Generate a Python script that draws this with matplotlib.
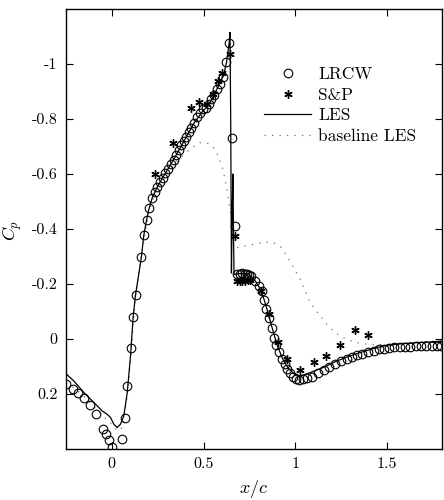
import matplotlib
matplotlib.use("Agg")
import matplotlib.pyplot as plt
from matplotlib.lines import Line2D

plt.rcParams['font.family'] = ['cmr10', 'DejaVu Serif']
plt.rcParams['mathtext.fontset'] = 'cm'
plt.rcParams['axes.unicode_minus'] = False
plt.rcParams['axes.formatter.use_mathtext'] = True

# LRCW experiment (circles)
lrcw_x = [-0.248, -0.214, -0.183, -0.152, -0.121, -0.089, -0.047, -0.030, -0.014, 0.000,
          0.058, 0.071, 0.085, 0.102, 0.116, 0.129, 0.161, 0.174, 0.189, 0.203,
          0.220, 0.234, 0.247, 0.261, 0.277, 0.292, 0.307, 0.323, 0.337, 0.350,
          0.364, 0.379, 0.394, 0.406, 0.421, 0.433, 0.450, 0.464, 0.482, 0.499,
          0.515, 0.528, 0.540, 0.555, 0.573, 0.591, 0.606, 0.624, 0.638, 0.656,
          0.671, 0.683, 0.697, 0.711, 0.724, 0.738, 0.750, 0.761, 0.783, 0.802,
          0.816, 0.829, 0.843, 0.859, 0.872, 0.885, 0.897, 0.914, 0.928, 0.943,
          0.955, 0.970, 0.986, 1.004, 1.022, 1.041, 1.062, 1.091, 1.124, 1.155,
          1.185, 1.218, 1.249, 1.280, 1.309, 1.336, 1.363, 1.396, 1.427, 1.454,
          1.483, 1.512, 1.541, 1.570, 1.599, 1.628, 1.657, 1.686, 1.715, 1.744,
          1.771, 1.795]
lrcw_cp = [0.165, 0.180, 0.197, 0.216, 0.241, 0.273, 0.328, 0.347, 0.367, 0.391,
           0.364, 0.287, 0.172, 0.034, -0.080, -0.159, -0.297, -0.377, -0.432, -0.475,
           -0.513, -0.535, -0.554, -0.571, -0.587, -0.605, -0.620, -0.636, -0.652, -0.668,
           -0.686, -0.705, -0.720, -0.736, -0.752, -0.769, -0.787, -0.806, -0.823, -0.835,
           -0.841, -0.853, -0.872, -0.886, -0.908, -0.929, -0.951, -1.007, -1.078, -0.730,
           -0.411, -0.235, -0.238, -0.239, -0.237, -0.235, -0.232, -0.229, -0.211, -0.193,
           -0.175, -0.142, -0.110, -0.078, -0.039, -0.005, 0.023, 0.049, 0.074, 0.092,
           0.110, 0.125, 0.137, 0.147, 0.150, 0.144, 0.141, 0.137, 0.125, 0.113,
           0.100, 0.090, 0.081, 0.074, 0.065, 0.059, 0.053, 0.047, 0.042, 0.037,
           0.035, 0.033, 0.030, 0.029, 0.029, 0.028, 0.027, 0.027, 0.025, 0.025,
           0.025, 0.025]

# S&P experiment (asterisks)
sp_x = [0.236, 0.332, 0.433, 0.476, 0.519, 0.550, 0.579, 0.600, 0.642, 0.674,
        0.683, 0.697, 0.711, 0.725, 0.740, 0.755, 0.815, 0.858, 0.907, 0.955,
        1.027, 1.102, 1.168, 1.245, 1.323, 1.396]
sp_cp = [-0.600, -0.713, -0.839, -0.863, -0.853, -0.890, -0.938, -0.968, -1.035, -0.375,
         -0.211, -0.211, -0.212, -0.212, -0.213, -0.215, -0.173, -0.090, 0.010, 0.072,
         0.113, 0.085, 0.062, 0.022, -0.032, -0.015]

# LES (solid)
les_x = [-0.25, -0.207, -0.152, -0.098, -0.052, -0.025, -0.007, 0.011, 0.029, 0.047,
         0.065, 0.084, 0.102, 0.116, 0.129, 0.161, 0.174, 0.189, 0.203, 0.220,
         0.250, 0.300, 0.350, 0.400, 0.450, 0.500, 0.520, 0.550, 0.580, 0.610,
         0.625, 0.640, 0.644, 0.648, 0.652, 0.656, 0.660, 0.663, 0.666, 0.700,
         0.740, 0.760, 0.783, 0.802, 0.820, 0.843, 0.870, 0.900, 0.930, 0.960,
         0.990, 1.020, 1.040, 1.090, 1.155, 1.220, 1.280, 1.340, 1.400, 1.450,
         1.500, 1.600, 1.700, 1.800]
les_cp = [0.126, 0.153, 0.195, 0.231, 0.262, 0.274, 0.286, 0.310, 0.322, 0.310,
          0.280, 0.195, 0.060, -0.080, -0.160, -0.297, -0.377, -0.432, -0.475, -0.513,
          -0.556, -0.612, -0.668, -0.728, -0.787, -0.832, -0.846, -0.878, -0.918, -0.962,
          -1.005, -1.078, -1.115, -0.800, -0.240, -0.450, -0.600, -0.400, -0.235, -0.238,
          -0.236, -0.228, -0.210, -0.190, -0.165, -0.115, -0.050, 0.020, 0.070, 0.105,
          0.125, 0.133, 0.132, 0.120, 0.103, 0.082, 0.066, 0.052, 0.040, 0.030,
          0.023, 0.016, 0.012, 0.008]

# baseline LES (dotted)
base_x = [-0.25, -0.20, -0.15, -0.10, -0.05, 0.00, 0.03, 0.06, 0.085, 0.10,
          0.13, 0.16, 0.20, 0.25, 0.30, 0.364, 0.428, 0.482, 0.528, 0.564,
          0.587, 0.606, 0.624, 0.636, 0.649, 0.663, 0.680, 0.727, 0.772, 0.836,
          0.881, 0.917, 0.954, 0.981, 1.011, 1.032, 1.053, 1.077, 1.108, 1.144,
          1.173, 1.207, 1.244, 1.280, 1.325, 1.362, 1.425, 1.500, 1.600, 1.700,
          1.800]
base_cp = [0.160, 0.180, 0.210, 0.245, 0.280, 0.310, 0.335, 0.320, 0.200, 0.080,
           -0.160, -0.300, -0.460, -0.555, -0.600, -0.653, -0.692, -0.714, -0.711, -0.690,
           -0.653, -0.617, -0.556, -0.508, -0.450, -0.350, -0.332, -0.338, -0.344, -0.353,
           -0.350, -0.338, -0.302, -0.272, -0.235, -0.211, -0.175, -0.138, -0.108, -0.078,
           -0.053, -0.029, -0.011, 0.001, 0.011, 0.017, 0.020, 0.020, 0.015, 0.010,
           0.005]

xticks = [0, 0.5, 1, 1.5]
xticklabels = ['0', '0.5', '1', '1.5']
yticks = [-1, -0.8, -0.6, -0.4, -0.2, 0, 0.2]
yticklabels = ['-1', '-0.8', '-0.6', '-0.4', '-0.2', '0', '0.2']

fig = plt.figure(figsize=(4.44, 5.00), dpi=100)
ax = fig.add_axes([66/444, 1-449/500, 376/444, 440/500])

ax.plot(base_x, base_cp, color='#707070', lw=0.9, ls=(0, (1, 5)), label='baseline LES')
ax.plot(les_x, les_cp, color='black', lw=0.9, label='LES')
ax.plot(lrcw_x, lrcw_cp, ls='none', marker='o', ms=6.2, mfc='none', mec='black', mew=0.8, label='LRCW')
ax.plot(sp_x, sp_cp, ls='none', marker=(6, 2, 0), ms=6, mec='black', mew=1.0, label='S&P')

ax.set_xlim(-0.25, 1.8)
ax.set_ylim(0.4, -1.2)
ax.set_xticks(xticks)
ax.set_xticklabels(xticklabels)
ax.set_yticks(yticks)
ax.set_yticklabels(yticklabels)
ax.tick_params(direction='in', top=True, right=True, length=5, width=0.8, labelsize=11.5, pad=6)
for s in ax.spines.values():
    s.set_linewidth(1.0)

ax.set_xlabel(r'$x/c$', fontsize=13)
ax.set_ylabel(r'$C_p$', fontsize=13)
ax.xaxis.set_label_coords((254 - 66) / 376, (449 - 478) / 440)
ax.yaxis.set_label_coords((24 - 66) / 376, (449 - 230) / 440)

handles = [
    Line2D([], [], ls='none', marker='o', ms=6.2, mfc='none', mec='black', mew=0.8),
    Line2D([], [], ls='none', marker=(6, 2, 0), ms=6, mec='black', mew=1.0),
    Line2D([], [], color='black', lw=0.9),
    Line2D([], [], color='#707070', lw=0.9, ls=(0, (1, 5))),
]
labels = ['LRCW', 'S&P', 'LES', 'baseline LES']
ax.legend(handles, labels, loc='center left', bbox_to_anchor=(0.527, 0.781), frameon=False,
          fontsize=12.5, handlelength=2.7, handletextpad=0.4, labelspacing=0.3,
          borderpad=0, borderaxespad=0)

fig.savefig('out.png', dpi=100)
